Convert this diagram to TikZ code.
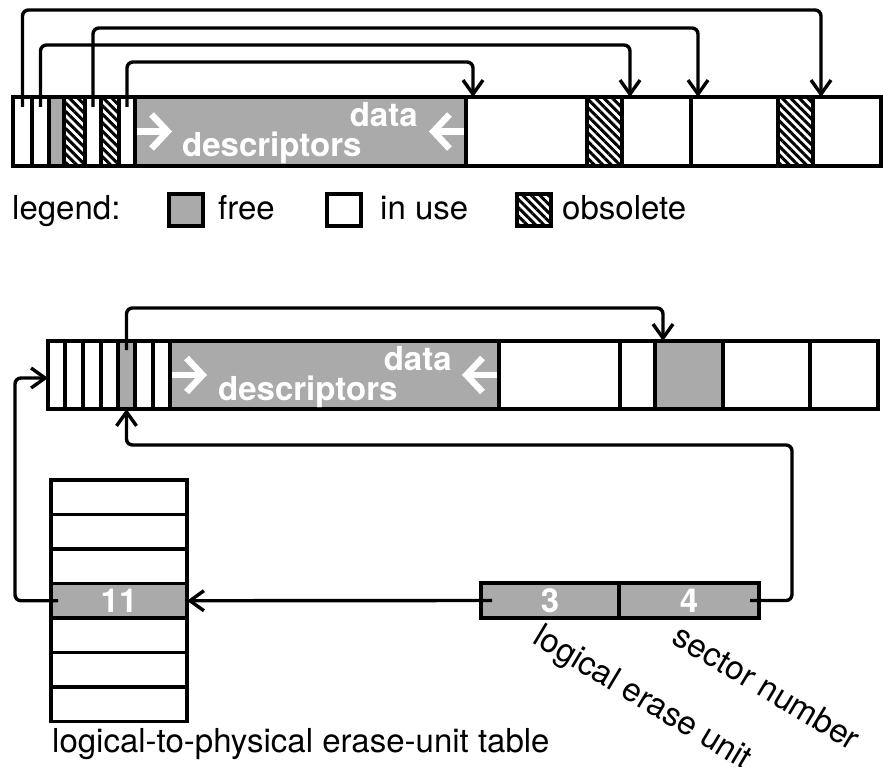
\documentclass[tikz,border=0pt]{standalone}
\usepackage{fontspec}
\setmainfont{TeX Gyre Heros}
\usetikzlibrary{arrows.meta,calc,patterns.meta}
\definecolor{freegray}{RGB}{170,170,170}
\newcommand{\lblfont}{\fontsize{33}{36}\selectfont}

\begin{document}
\begin{tikzpicture}[x=1pt, y=-1pt,
      cell/.style={draw, line width=3.4pt, inner sep=0pt, outer sep=0pt,
                   anchor=north west, minimum height=69pt},
      lowcell/.style={cell, minimum height=68pt},
      row/.style={cell, minimum width=136pt, minimum height=34.5pt},
      field/.style={cell, minimum height=35pt, fill=freegray,
                    font=\lblfont\bfseries, text=white},
      free/.style={fill=freegray},
      old/.style={pattern={Lines[angle=-45,distance=6pt,line width=3pt]}},
      key/.style={draw, line width=4pt, inner sep=0pt,
                  minimum width=34pt, minimum height=32pt},
      lbl/.style={inner sep=0pt, font=\lblfont},
      wlbl/.style={inner sep=0pt, font=\lblfont\bfseries, text=white},
      ptr/.style={-{Straight Barb[length=14pt,width=20pt]}, line width=3.4pt,
                  rounded corners=6pt},
      wptr/.style={-{Straight Barb[length=16pt,width=34pt]}, line width=6.5pt, white}
    ]
    \useasboundingbox (0,0) rectangle (883,767);

    % top: erase unit before reclaiming
    \node[cell, minimum width=19pt] (t1) at (13,97) {};
    \node[cell, minimum width=17pt] (t2) at (t1.north east) {};
    \node[cell, free, minimum width=15pt] (t3) at (t2.north east) {};
    \node[cell, old, minimum width=21pt] (t4) at (t3.north east) {};
    \node[cell, minimum width=16pt] (t5) at (t4.north east) {};
    \node[cell, old, minimum width=18pt] (t6) at (t5.north east) {};
    \node[cell, minimum width=16pt] (t7) at (t6.north east) {};
    \node[cell, free, minimum width=331pt] (t8) at (t7.north east) {};
    \node[cell, minimum width=121pt] (t9) at (t8.north east) {};
    \node[cell, old, minimum width=35pt] (t10) at (t9.north east) {};
    \node[cell, minimum width=69pt] (t11) at (t10.north east) {};
    \node[cell, minimum width=87pt] (t12) at (t11.north east) {};
    \node[cell, old, minimum width=35pt] (t13) at (t12.north east) {};
    \node[cell, minimum width=68pt] (t14) at (t13.north east) {};

    \draw[wptr] ($(t8.west)+(1.7,0)$) -- ($(t8.west)+(37,0)$);
    \draw[wptr] ($(t8.east)+(-1.7,0)$) -- ($(t8.east)+(-37,0)$);
    \node[wlbl, anchor=base east] (tdata) at ($(t8.east)+(-48,-4.5)$) {data};
    \node[wlbl, anchor=base west] (tdesc) at ($(t8.west)+(47,25.5)$) {descriptors};

    \draw[ptr] ($(t1.north)+(0,10)$) -- ++(0,-97) -| ($(t14.north west)+(8,0)$);
    \draw[ptr] ($(t5.north)+(0,10)$) -- ++(0,-79) -| ($(t12.north west)+(7,0)$);
    \draw[ptr] ($(t2.north)+(0,10)$) -- ++(0,-62) -| ($(t11.north west)+(8,0)$);
    \draw[ptr] ($(t7.north)+(0,10)$) -- ++(0,-45) -| ($(t9.north west)+(7,0)$);

    % legend
    \node[lbl, anchor=base west] (legend) at (12,220) {legend:};
    \node[key, free] (kfree) at (186,210) {};
    \node[lbl, anchor=base west] (lfree) at (218,220) {free};
    \node[key] (kuse) at (344,210) {};
    \node[lbl, anchor=base west] (luse) at (380,220) {in use};
    \node[key, old] (kold) at (534,210) {};
    \node[lbl, anchor=base west] (lold) at (562,220) {obsolete};

    % bottom: erase unit and the lookup
    \node[lowcell, minimum width=17pt] (b1) at (48,341) {};
    \node[lowcell, minimum width=18pt] (b2) at (b1.north east) {};
    \node[lowcell, minimum width=18pt] (b3) at (b2.north east) {};
    \node[lowcell, minimum width=17pt] (b4) at (b3.north east) {};
    \node[lowcell, free, minimum width=17pt] (b5) at (b4.north east) {};
    \node[lowcell, minimum width=18pt] (b6) at (b5.north east) {};
    \node[lowcell, minimum width=17pt] (b7) at (b6.north east) {};
    \node[lowcell, free, minimum width=329pt] (b8) at (b7.north east) {};
    \node[lowcell, minimum width=121pt] (b9) at (b8.north east) {};
    \node[lowcell, minimum width=35pt] (b10) at (b9.north east) {};
    \node[lowcell, free, minimum width=68pt] (b11) at (b10.north east) {};
    \node[lowcell, minimum width=87pt] (b12) at (b11.north east) {};
    \node[lowcell, minimum width=68pt] (b13) at (b12.north east) {};

    \draw[wptr] ($(b8.west)+(1.7,0)$) -- ($(b8.west)+(37,0)$);
    \draw[wptr] ($(b8.east)+(-1.7,0)$) -- ($(b8.east)+(-37,0)$);
    \node[wlbl, anchor=base east] (bdata) at ($(b8.east)+(-47,-5)$) {data};
    \node[wlbl, anchor=base west] (bdesc) at ($(b8.west)+(48,25)$) {descriptors};

    \node[row] (r1) at (51,480) {};
    \node[row] (r2) at (r1.south west) {};
    \node[row] (r3) at (r2.south west) {};
    \node[row, free, font=\lblfont\bfseries, text=white] (r4) at (r3.south west) {11};
    \node[row] (r5) at (r4.south west) {};
    \node[row] (r6) at (r5.south west) {};
    \node[row] (r7) at (r6.south west) {};
    \node[lbl, anchor=base west] (table) at ($(r7.south west)+(1,31)$)
      {logical-to-physical erase-unit table};

    \node[field, minimum width=138pt] (f3) at (481,583) {3};
    \node[field, minimum width=140pt] (f4) at (f3.north east) {4};
    \node[lbl, anchor=north west, rotate=-31] (lunit) at ($(f3.south)+(-6,4)$)
      {logical erase unit};
    \node[lbl, anchor=north west, rotate=-31] (lsect) at ($(f4.south)+(-6,4)$)
      {sector number};

    \draw[ptr] ($(b5.north)+(0,9)$) -- ++(0,-42) -| ($(b11.north west)+(8,0)$);
    \draw[ptr] ($(f4.east)+(-9,0)$) -- ++(42,0) |- ($(b5.south)+(0,36)$) -- (b5.south);
    \draw[ptr] ($(f3.west)+(11,0)$) -- (r4.east);
    \draw[ptr] ($(r4.west)+(7,0)$) -- ++(-43,0) |- ($(b1.west)+(0,3)$);
  \end{tikzpicture}
\end{document}
